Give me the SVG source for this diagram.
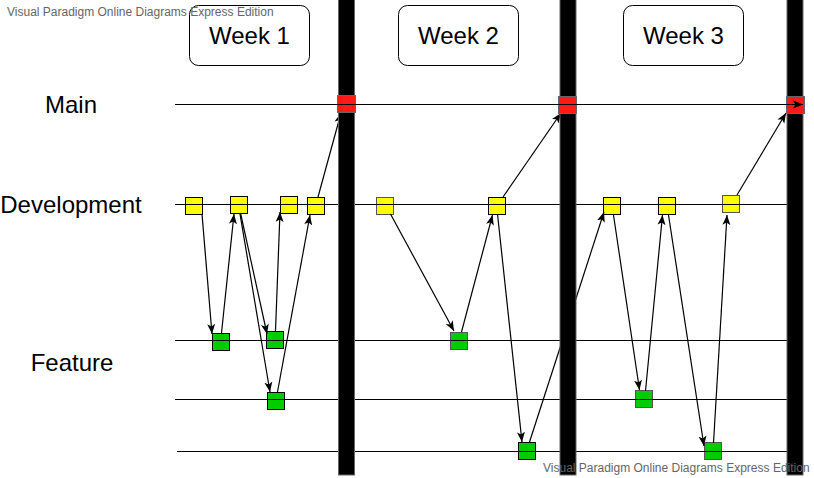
<svg xmlns="http://www.w3.org/2000/svg" width="814" height="478" viewBox="0 0 814 478">
<defs>
<marker id="ah" markerWidth="11" markerHeight="11" refX="10" refY="5.5" orient="auto" markerUnits="userSpaceOnUse">
<path d="M0,1.5 L10,5.5 L0,9.5 L2.5,5.5 Z" fill="#000"/>
</marker>
</defs>
<style>
.lane{stroke:#000;stroke-width:1;fill:none}
.bar{fill:#000;stroke:#666;stroke-width:1}
.wk{fill:#fff;stroke:#000;stroke-width:1}
.lbl{font-family:"Liberation Sans",Arial,sans-serif;font-size:24px;fill:#000}
.wm{font-family:"Liberation Sans",Arial,sans-serif;font-size:12px;fill:#666}
.y{fill:#ffff00;stroke:#000;stroke-width:1}
.g{fill:#00cc00;stroke:#000;stroke-width:1}
.r{fill:#ff1a1a;stroke:#666;stroke-width:1}
.gy{stroke:#555}
.c{stroke:#000;stroke-width:1.2;fill:none;marker-end:url(#ah)}
</style>
<rect width="814" height="478" fill="#fff"/>

<g id="labels">
<text class="lbl" x="71" y="113" text-anchor="middle">Main</text>
<text class="lbl" x="71" y="213" text-anchor="middle">Development</text>
<text class="lbl" x="72" y="371" text-anchor="middle">Feature</text>
</g>

<g id="week1"><rect class="wk" x="189.5" y="5.5" width="120" height="60" rx="9"/><text class="lbl" x="249.5" y="44" text-anchor="middle">Week 1</text></g>
<g id="week2"><rect class="wk" x="398.5" y="5.5" width="120" height="60" rx="9"/><text class="lbl" x="458.5" y="44" text-anchor="middle">Week 2</text></g>
<g id="week3"><rect class="wk" x="623.5" y="5.5" width="120" height="60" rx="9"/><text class="lbl" x="683.5" y="44" text-anchor="middle">Week 3</text></g>

<g id="dev-nodes">
<rect id="y1" class="y" x="185.5" y="197.5" width="17" height="17"/>
<rect id="y2" class="y" x="230.5" y="196.5" width="17" height="17"/>
<rect id="y3" class="y" x="280.5" y="196.5" width="17" height="17"/>
<rect id="y4" class="y" x="307.5" y="197.5" width="17" height="17"/>
<rect id="y5" class="y gy" x="376.5" y="197.5" width="17" height="17"/>
<rect id="y6" class="y" x="488.5" y="197.5" width="17" height="17"/>
<rect id="y7" class="y" x="603.5" y="197.5" width="17" height="17"/>
<rect id="y8" class="y" x="658.5" y="197.5" width="17" height="17"/>
<rect id="y9" class="y gy" x="722.5" y="195.5" width="17" height="17"/>
</g>

<g id="feature-nodes">
<rect id="g1" class="g" x="212.5" y="333.5" width="17" height="17"/>
<rect id="g2" class="g" x="266.5" y="331.5" width="17" height="17"/>
<rect id="g3" class="g" x="267.5" y="392.5" width="17" height="17"/>
<rect id="g4" class="g gy" x="450.5" y="332.5" width="17" height="17"/>
<rect id="g5" class="g" x="518.5" y="442.5" width="17" height="17"/>
<rect id="g6" class="g gy" x="635.5" y="390.5" width="17" height="17"/>
<rect id="g7" class="g gy" x="704.5" y="442.5" width="17" height="17"/>
</g>

<g id="lanes">
<line class="lane" x1="175" y1="204.5" x2="787" y2="204.5"/>
<line class="lane" x1="175" y1="340.5" x2="787" y2="340.5"/>
<line class="lane" x1="175" y1="399.5" x2="787" y2="399.5"/>
<line class="lane" x1="177" y1="451.5" x2="787" y2="451.5"/>
</g>

<g id="connectors">
<line class="c" x1="202" y1="214" x2="212" y2="334"/>
<line class="c" x1="221.5" y1="333" x2="234" y2="214"/>
<line class="c" x1="240.5" y1="213" x2="267" y2="334"/>
<line class="c" x1="240" y1="214" x2="270" y2="392"/>
<line class="c" x1="275.5" y1="331" x2="280" y2="212"/>
<line class="c" x1="277.5" y1="392" x2="310" y2="215"/>
<line class="c" x1="318" y1="197" x2="341" y2="113"/>
<line class="c" x1="390.5" y1="214" x2="454" y2="331"/>
<line class="c" x1="461.5" y1="332" x2="492.5" y2="215"/>
<line class="c" x1="497.5" y1="214" x2="522" y2="442"/>
<line class="c" x1="503" y1="197" x2="561" y2="113"/>
<line class="c" x1="529.5" y1="442" x2="604" y2="212"/>
<line class="c" x1="613.5" y1="215" x2="639.5" y2="390"/>
<line class="c" x1="645.5" y1="391" x2="662.5" y2="215"/>
<line class="c" x1="668.5" y1="215" x2="704" y2="446"/>
<line class="c" x1="713.5" y1="443" x2="727" y2="215"/>
<line class="c" x1="737" y1="195" x2="786" y2="113"/>
</g>

<g id="bars">
<rect class="bar" x="338.5" y="-1" width="16" height="476"/>
<rect class="bar" x="560" y="-1" width="16" height="476"/>
<rect class="bar" x="787" y="-1" width="16" height="476"/>
</g>

<g id="main-nodes">
<rect id="r1" class="r" x="337.5" y="95.5" width="18" height="17"/>
<rect id="r2" class="r" x="558.5" y="96.5" width="18" height="17"/>
<rect id="r3" class="r" x="786.5" y="96.5" width="18" height="17"/>
</g>

<g id="main-lane">
<line class="c" x1="175" y1="104.5" x2="803" y2="104.5"/>
</g>

<g id="watermarks">
<text class="wm" x="7" y="16">Visual Paradigm Online Diagrams Express Edition</text>
<text class="wm" x="543" y="472">Visual Paradigm Online Diagrams Express Edition</text>
</g>
</svg>
